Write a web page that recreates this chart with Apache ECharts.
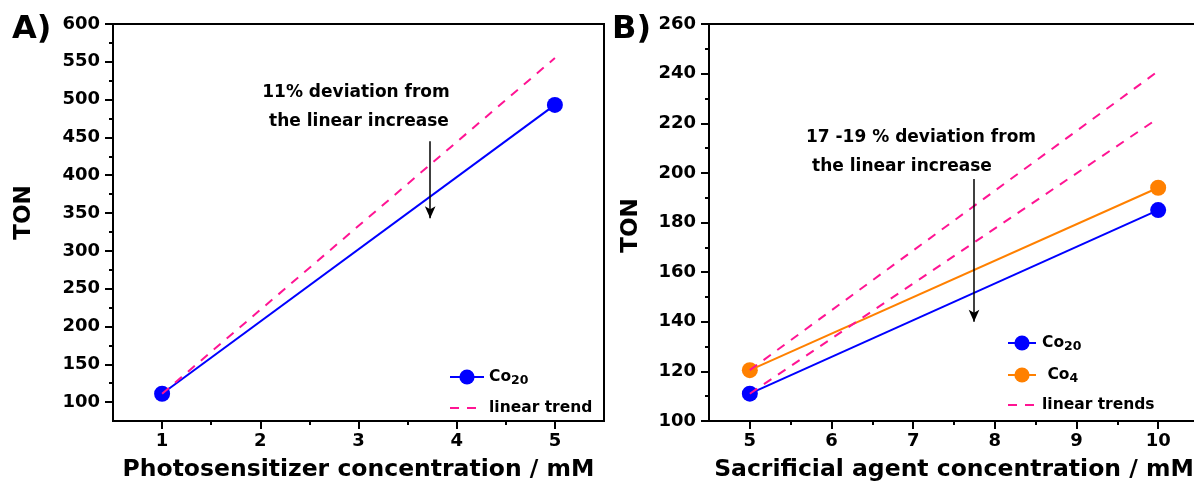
<!DOCTYPE html>
<html>
<head>
<meta charset="utf-8">
<script src="https://cdn.jsdelivr.net/npm/echarts@6/dist/echarts.min.js"></script>
<style>
html,body{margin:0;padding:0;background:#fff;}
#chart{width:1194px;height:482px;}
</style>
</head>
<body>
<div id="chart"></div>
<script>
// ---- Data ----
// Panel A: photosensitizer concentration
const psConc = [1, 5];
const psCo20 = [111, 493];
const psTrend = [111, 555];
const psYTicks = [100, 150, 200, 250, 300, 350, 400, 450, 500, 550, 600];
const psYMinor = [125, 175, 225, 275, 325, 375, 425, 475, 525, 575];
const psXTicks = [1, 2, 3, 4, 5];
const psXMinor = [1.5, 2.5, 3.5, 4.5];
// Panel B: sacrificial agent concentration
const saConc = [5, 10];
const saCo20 = [111, 185];
const saCo4 = [120.5, 194];
const saTrendCo20 = [111, 222];
const saTrendCo4 = [120.5, 241];
const saYTicks = [100, 120, 140, 160, 180, 200, 220, 240, 260];
const saYMinor = [110, 130, 150, 170, 190, 210, 230, 250];
const saXTicks = [5, 6, 7, 8, 9, 10];
const saXMinor = [5.5, 6.5, 7.5, 8.5, 9.5];

const FONT = '"DejaVu Sans", sans-serif';
const BLUE = '#0000ff', ORANGE = '#ff8000', PINK = '#ff1493';
const DASH = [9, 8];

const pairs = (xs, ys) => xs.map((x, i) => [x, ys[i]]);

function mainX(gi, min, max, ticks, name) {
  return {
    type: 'value', gridIndex: gi, min: min, max: max, position: 'bottom',
    name: name, nameLocation: 'middle', nameGap: 37,
    nameTextStyle: {fontFamily: FONT, fontWeight: 'bold', fontSize: 23.5, color: '#000'},
    axisLine: {show: true, lineStyle: {color: '#000', width: 2}},
    axisTick: {show: true, length: 8, customValues: ticks, lineStyle: {color: '#000', width: 2}},
    axisLabel: {customValues: ticks, margin: 11, fontFamily: FONT, fontWeight: 'bold', fontSize: 18, color: '#000'},
    splitLine: {show: false}
  };
}
function minorX(gi, min, max, ticks) {
  return {
    type: 'value', gridIndex: gi, min: min, max: max, position: 'bottom',
    axisLine: {show: false},
    axisTick: {show: true, length: 4, customValues: ticks, lineStyle: {color: '#000', width: 2}},
    axisLabel: {show: false}, splitLine: {show: false}
  };
}
function topX(gi, min, max) {
  return {
    type: 'value', gridIndex: gi, min: min, max: max, position: 'top',
    axisLine: {show: true, lineStyle: {color: '#000', width: 2}},
    axisTick: {show: false}, axisLabel: {show: false}, splitLine: {show: false}
  };
}
function mainY(gi, min, max, ticks, gap, pad) {
  return {
    type: 'value', gridIndex: gi, min: min, max: max, position: 'left',
    name: 'TON', nameLocation: 'middle', nameGap: gap, nameRotate: 90,
    nameTextStyle: {fontFamily: FONT, fontWeight: 'bold', fontSize: 23, color: '#000', padding: pad},
    axisLine: {show: true, lineStyle: {color: '#000', width: 2}},
    axisTick: {show: true, length: 8, customValues: ticks, lineStyle: {color: '#000', width: 2}},
    axisLabel: {customValues: ticks, margin: 13, fontFamily: FONT, fontWeight: 'bold', fontSize: 18, color: '#000'},
    splitLine: {show: false}
  };
}
function minorY(gi, min, max, ticks) {
  return {
    type: 'value', gridIndex: gi, min: min, max: max, position: 'left',
    axisLine: {show: false},
    axisTick: {show: true, length: 4, customValues: ticks, lineStyle: {color: '#000', width: 2}},
    axisLabel: {show: false}, splitLine: {show: false}
  };
}

const legendNames = {
  'Co20 A': '{m|Co}{s|20}',
  'linear trend A': '{m|linear trend}',
  'Co20 B': '{m|Co}{s|20}',
  'Co4 B': '{m| Co}{s|4}',
  'linear trends B': '{m|linear trends}'
};
function legendText(pad) {
  return {
    fontFamily: FONT, fontWeight: 'bold', fontSize: 15.5, color: '#000',
    padding: [0, 0, 0, pad],
    rich: {
      m: {fontFamily: FONT, fontWeight: 'bold', fontSize: 15.5, color: '#000', lineHeight: 20},
      s: {fontFamily: FONT, fontWeight: 'bold', fontSize: 12.5, color: '#000', lineHeight: 12, verticalAlign: 'bottom', padding: [7, 0, 0, 0]}
    }
  };
}
const hideSymbol = {opacity: 0};

const chart = echarts.init(document.getElementById('chart'), null, {renderer: 'canvas'});

const option = {
  backgroundColor: '#fff',
  animation: false,
  grid: [
    {left: 113, top: 24, width: 491, height: 397, outerBoundsMode: 'none', containLabel: false,
     show: true, borderColor: '#000', borderWidth: 2, backgroundColor: 'transparent'},
    {left: 709, top: 24, width: 490, height: 397, outerBoundsMode: 'none', containLabel: false, show: false}
  ],
  xAxis: [
    mainX(0, 0.5, 5.5, psXTicks, 'Photosensitizer concentration / mM'),
    minorX(0, 0.5, 5.5, psXMinor),
    mainX(1, 4.5, 10.5, saXTicks, 'Sacrificial agent concentration / mM'),
    minorX(1, 4.5, 10.5, saXMinor),
    topX(1, 4.5, 10.5)
  ],
  yAxis: [
    mainY(0, 75, 600, psYTicks, 77, [0, 0, 0, 20]),
    minorY(0, 75, 600, psYMinor),
    mainY(1, 100, 260, saYTicks, 66, [0, 6, 0, 0]),
    minorY(1, 100, 260, saYMinor)
  ],
  legend: [
    {
      data: ['Co20 A', {name: 'linear trend A', itemStyle: hideSymbol}],
      left: 444, top: 362, orient: 'vertical', itemGap: 13,
      itemWidth: 34, itemHeight: 19,
      formatter: n => legendNames[n], textStyle: legendText(0),
      selectedMode: false
    },
    {
      data: ['Co20 B', 'Co4 B', {name: 'linear trends B', itemStyle: hideSymbol}],
      left: 1002, top: 328, orient: 'vertical', itemGap: 12,
      itemWidth: 28, itemHeight: 19,
      formatter: n => legendNames[n], textStyle: legendText(1),
      selectedMode: false
    }
  ],
  series: [
    {
      name: 'Co20 A', type: 'line', xAxisIndex: 0, yAxisIndex: 0, z: 2,
      data: pairs(psConc, psCo20),
      symbol: 'circle', symbolSize: 16,
      itemStyle: {color: BLUE}, lineStyle: {color: BLUE, width: 2},
      markLine: {
        silent: true, symbol: ['none', 'arrow'], symbolSize: [8, 12],
        lineStyle: {color: '#000', width: 1.5, type: 'solid'},
        label: {show: false},
        data: [[{coord: [3.73, 445]}, {coord: [3.73, 343]}]]
      }
    },
    {
      name: 'linear trend A', type: 'line', xAxisIndex: 0, yAxisIndex: 0, z: 3,
      data: pairs(psConc, psTrend),
      symbol: 'none',
      itemStyle: {color: PINK}, lineStyle: {color: PINK, width: 2, type: DASH}
    },
    {
      name: 'Co20 B', type: 'line', xAxisIndex: 2, yAxisIndex: 2, z: 2,
      data: pairs(saConc, saCo20),
      symbol: 'circle', symbolSize: 16,
      itemStyle: {color: BLUE}, lineStyle: {color: BLUE, width: 2},
      markLine: {
        silent: true, symbol: ['none', 'arrow'], symbolSize: [8, 12],
        lineStyle: {color: '#000', width: 1.5, type: 'solid'},
        label: {show: false},
        data: [[{coord: [7.745, 197.5]}, {coord: [7.745, 140]}]]
      }
    },
    {
      name: 'Co4 B', type: 'line', xAxisIndex: 2, yAxisIndex: 2, z: 2,
      data: pairs(saConc, saCo4),
      symbol: 'circle', symbolSize: 16,
      itemStyle: {color: ORANGE}, lineStyle: {color: ORANGE, width: 2}
    },
    {
      name: 'linear trends B', type: 'line', xAxisIndex: 2, yAxisIndex: 2, z: 3,
      data: pairs(saConc, saTrendCo4),
      symbol: 'none',
      itemStyle: {color: PINK}, lineStyle: {color: PINK, width: 2, type: DASH}
    },
    {
      name: 'linear trend Co20 B', type: 'line', xAxisIndex: 2, yAxisIndex: 2, z: 3,
      data: pairs(saConc, saTrendCo20),
      symbol: 'none',
      itemStyle: {color: PINK}, lineStyle: {color: PINK, width: 2, type: DASH}
    }
  ],
  graphic: [
    {type: 'text', left: 12, top: 14, style: {text: 'A)', font: 'bold 32px "DejaVu Sans", sans-serif', fill: '#000'}},
    {type: 'text', left: 612, top: 14, style: {text: 'B)', font: 'bold 32px "DejaVu Sans", sans-serif', fill: '#000'}},
    {type: 'text', x: 356, y: 93, style: {text: '11% deviation from', font: 'bold 17px "DejaVu Sans", sans-serif', fill: '#000', align: 'center', verticalAlign: 'middle'}},
    {type: 'text', x: 359, y: 122, style: {text: 'the linear increase', font: 'bold 17px "DejaVu Sans", sans-serif', fill: '#000', align: 'center', verticalAlign: 'middle'}},
    {type: 'text', x: 921, y: 138, style: {text: '17 -19 % deviation from', font: 'bold 17px "DejaVu Sans", sans-serif', fill: '#000', align: 'center', verticalAlign: 'middle'}},
    {type: 'text', x: 902, y: 167, style: {text: 'the linear increase', font: 'bold 17px "DejaVu Sans", sans-serif', fill: '#000', align: 'center', verticalAlign: 'middle'}}
  ]
};
chart.setOption(option);
</script>
</body>
</html>
